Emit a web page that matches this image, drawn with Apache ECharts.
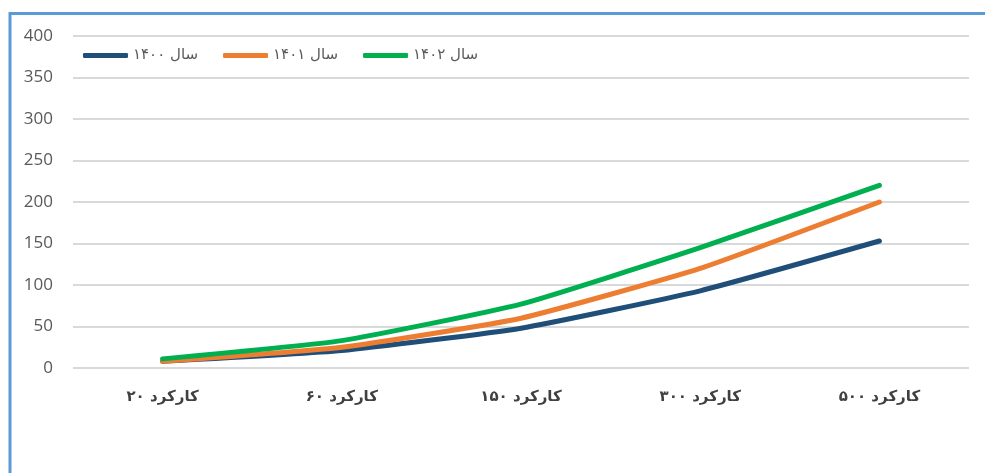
<!DOCTYPE html>
<html>
<head>
<meta charset="utf-8">
<script src="https://cdn.jsdelivr.net/npm/echarts@6/dist/echarts.min.js"></script>
<style>
  html, body { margin: 0; padding: 0; background: #fff; }
  #chart { width: 985px; height: 473px; }
</style>
</head>
<body>
<div id="chart"></div>
<script>
// Usage categories (x axis)
const categories = ['کارکرد ۲۰', 'کارکرد ۶۰', 'کارکرد ۱۵۰', 'کارکرد ۳۰۰', 'کارکرد ۵۰۰'];
// Series names
const seriesNames = ['سال ۱۴۰۰', 'سال ۱۴۰۱', 'سال ۱۴۰۲'];
// Values per year
const values1400 = [8, 21, 48, 93, 153];
const values1401 = [8, 25, 60, 120, 200];
const values1402 = [11, 33, 77, 145, 220];
// Y axis ticks
const yMin = 0, yMax = 400, yStep = 50;

const colors = ['#1F4E79', '#ED7D31', '#00B050'];
const seriesValues = [values1400, values1401, values1402];

const chart = echarts.init(document.getElementById('chart'), null, { renderer: 'canvas' });

chart.setOption({
  animation: false,
  backgroundColor: '#ffffff',
  graphic: [{
    type: 'rect',
    shape: { x: 10, y: 13.5, width: 1100, height: 600 },
    style: { fill: 'none', stroke: '#5B9BD5', lineWidth: 3 },
    silent: true,
    z: 0
  }],
  grid: { left: 73, right: 16, top: 36, bottom: 105 },
  legend: {
    left: 78,
    top: 43,
    icon: 'roundRect',
    itemWidth: 45,
    itemHeight: 5,
    itemGap: 25,
    textStyle: { fontFamily: 'DejaVu Sans', fontSize: 15, color: '#595959' },
    data: seriesNames
  },
  xAxis: {
    type: 'category',
    data: categories,
    boundaryGap: true,
    axisLine: { show: false },
    axisTick: { show: false },
    axisLabel: {
      margin: 22,
      fontFamily: 'DejaVu Sans',
      fontWeight: 'bold',
      fontSize: 15,
      color: '#404040'
    }
  },
  yAxis: {
    type: 'value',
    min: yMin,
    max: yMax,
    interval: yStep,
    axisLine: { show: false },
    axisTick: { show: false },
    splitLine: { lineStyle: { color: '#D9D9D9', width: 2 } },
    axisLabel: {
      margin: 20,
      fontFamily: 'Open Sans',
      fontSize: 17,
      color: '#595959'
    }
  },
  series: seriesNames.map((name, i) => ({
    name,
    type: 'line',
    data: seriesValues[i],
    smooth: 0.15,
    symbol: 'none',
    color: colors[i],
    lineStyle: { width: 5, color: colors[i], cap: 'round', join: 'round' },
    z: 2 + i
  }))
});
</script>
</body>
</html>
